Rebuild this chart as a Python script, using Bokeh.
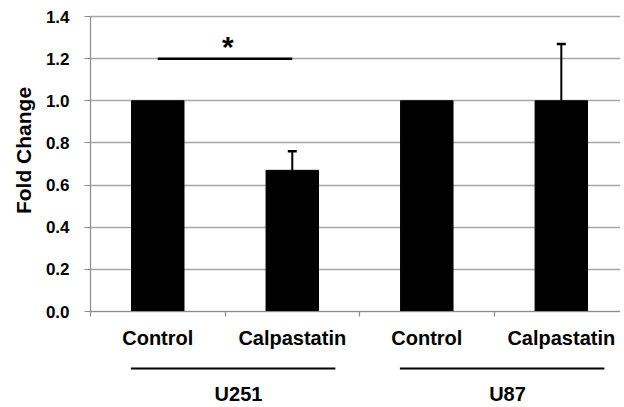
import math
from bokeh.plotting import figure
from bokeh.models import (Range1d, FixedTicker, Label, Whisker, TeeHead,
                          ColumnDataSource)
from bokeh.core.properties import value
from bokeh.embed import file_html
from bokeh.resources import INLINE

# ---- data ----
categories = ["Control", "Calpastatin", "Control", "Calpastatin"]
fold_change = [1.0, 0.67, 1.0, 1.0]
errors = [0.0, 0.09, 0.0, 0.27]
groups = ["U251", "U87"]
group_sizes = [2, 2]
y_ticks = [0.0, 0.2, 0.4, 0.6, 0.8, 1.0, 1.2, 1.4]
y_label = "Fold Change"
sig_pair = (0, 1)          # bars joined by the significance line
sig_level = 1.2
sig_mark = "*"

FONT = "Liberation Sans"
PX = 1.4 / 295.0           # y data units per pixel
PXX = 1.0 / 134.5          # x data units per pixel

n = len(categories)
xs = [i + 0.5 for i in range(n)]
x_end = 3.94
y_top = max(y_ticks)

p = figure(width=620, height=405, output_backend="svg", toolbar_location=None,
           x_range=Range1d(-90 * PXX, x_end),
           y_range=Range1d(y_top - 389 * PX, y_top + 16 * PX),
           min_border_left=0, min_border_right=0, min_border_top=0,
           min_border_bottom=0)
p.outline_line_color = None
p.background_fill_color = "white"
p.border_fill_color = "white"

# grid (limited to the plot area right of the y axis)
p.xgrid.visible = False
ygrid = p.ygrid[0]
if "cross_bounds" in ygrid.properties():
    ygrid.ticker = FixedTicker(ticks=y_ticks)
    ygrid.cross_bounds = (0, x_end)
    ygrid.grid_line_color = "#a6a6a6"
    ygrid.grid_line_width = 1.5
else:
    ygrid.visible = False
    p.segment(x0=[0] * len(y_ticks), y0=y_ticks, x1=[x_end] * len(y_ticks),
              y1=y_ticks, line_color="#a6a6a6", line_width=1.5)

# y axis at x = 0
p.yaxis.fixed_location = 0
p.yaxis.bounds = (0, y_top)
p.yaxis.ticker = FixedTicker(ticks=y_ticks)
p.yaxis.major_label_overrides = {t: f"{t:.1f}" for t in y_ticks}
p.yaxis.axis_line_color = "#8c8c8c"
p.yaxis.axis_line_width = 1.2
p.yaxis.major_tick_line_color = "#8c8c8c"
p.yaxis.major_tick_line_width = 1.2
p.yaxis.major_tick_out = 6
p.yaxis.major_tick_in = 0
p.yaxis.minor_tick_line_color = None
p.yaxis.major_label_standoff = 15
p.yaxis.major_label_text_font = FONT
p.yaxis.major_label_text_font_style = "bold"
p.yaxis.major_label_text_font_size = "17px"
p.yaxis.major_label_text_color = "black"

p.add_layout(Label(x=-67 * PXX, y=(311 - 150) * PX, text=y_label, angle=math.pi / 2,
                   text_font=FONT, text_font_style="bold", text_font_size="21px",
                   text_align="center", text_baseline="alphabetic",
                   text_color="black"))

# x axis at y = 0: boundary ticks (minor), category names at centres
p.xaxis.fixed_location = 0
p.xaxis.bounds = (0, x_end)
p.xaxis.ticker = FixedTicker(ticks=xs, minor_ticks=list(range(n + 1)))
p.xaxis.major_label_overrides = {x: c for x, c in zip(xs, categories)}
p.xaxis.axis_line_color = "#8c8c8c"
p.xaxis.axis_line_width = 1.2
p.xaxis.major_tick_line_color = None
p.xaxis.major_tick_out = 5
p.xaxis.major_tick_in = 0
p.xaxis.minor_tick_line_color = "#8c8c8c"
p.xaxis.minor_tick_line_width = 1.2
p.xaxis.minor_tick_out = 5
p.xaxis.minor_tick_in = 0
p.xaxis.major_label_standoff = 10
p.xaxis.major_label_text_font = FONT
p.xaxis.major_label_text_font_style = "bold"
p.xaxis.major_label_text_font_size = "20px"
p.xaxis.major_label_text_color = "black"

# bars
src = ColumnDataSource(dict(x=xs, top=fold_change))
p.vbar(x="x", top="top", width=0.39, bottom=0, source=src,
       fill_color="black", line_color="black")

# error bars (only where error > 0)
err_idx = [i for i, e in enumerate(errors) if e > 0]
err_src = ColumnDataSource(dict(x=[xs[i] for i in err_idx],
                                lower=[fold_change[i] for i in err_idx],
                                upper=[fold_change[i] + errors[i] for i in err_idx]))
p.add_layout(Whisker(source=err_src, base="x", lower="lower", upper="upper",
                     line_color="black", line_width=2,
                     upper_head=TeeHead(size=9, line_color="black", line_width=2.5),
                     lower_head=None))

# significance line and star
a, b = sig_pair
p.segment(x0=[xs[a]], y0=[sig_level], x1=[xs[b]], y1=[sig_level],
          line_color="black", line_width=2.5)
p.add_layout(Label(x=(xs[a] + xs[b]) / 2 + 0.02, y=sig_level + 12 * PX, text=sig_mark,
                   text_font=FONT, text_font_style="bold", text_font_size="30px",
                   text_align="center", text_baseline="alphabetic",
                   text_color="black"))

# group lines and labels
g_x0, g_x1, g_mid = [], [], []
start = 0
for size in group_sizes:
    end = start + size
    g_x0.append(start + 0.3)
    g_x1.append(end - 0.18)
    g_mid.append((start + 0.3 + end - 0.18) / 2 + 0.04)
    start = end
p.segment(x0=g_x0, y0=[-57 * PX] * len(groups), x1=g_x1, y1=[-57 * PX] * len(groups),
          line_color="black", line_width=2)
p.text(x=g_mid, y=[-82 * PX] * len(groups), text=groups,
       text_font=value(FONT), text_font_style="bold", text_font_size="20px",
       text_align="center", text_baseline="middle", text_color="black")

open("out.html", "w").write(file_html(p, INLINE))
